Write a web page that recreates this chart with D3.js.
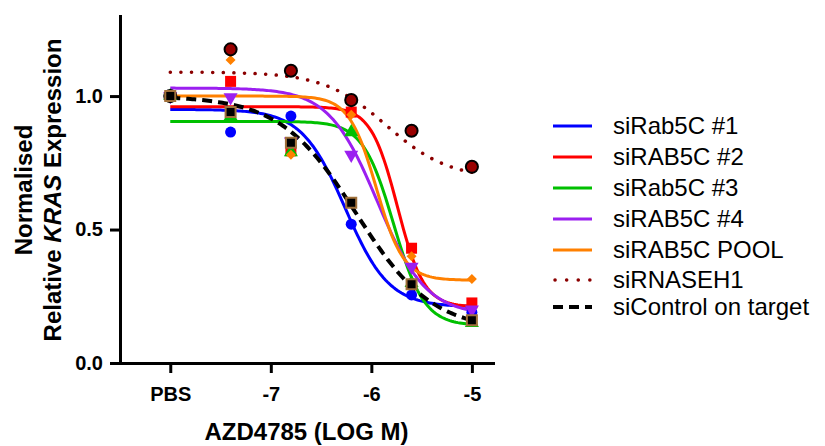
<!DOCTYPE html>
<html>
<head>
<meta charset="utf-8">
<script src="https://cdn.jsdelivr.net/npm/d3@7"></script>
<style>
body { margin: 0; background: #fff; }
text { font-family: "Liberation Sans", Arial, sans-serif; }
</style>
</head>
<body>
<svg id="chart" width="825" height="446"></svg>
<script>
// data
var logDose = [-8, -7.4, -6.8, -6.2, -5.6, -5];   // -8 = PBS
var xTickValues = [-8, -7, -6, -5];
var xTickLabels = ["PBS", "-7", "-6", "-5"];
var yTickValues = [0, 0.5, 1.0];

var seriesNames = ["siRab5C #1", "siRAB5C #2", "siRab5C #3", "siRAB5C #4",
                   "siRAB5C POOL", "siRNASEH1", "siControl on target"];

var rab1    = [1.0, 0.865, 0.925, 0.52, 0.255, 0.19];
var rab2    = [1.0, 1.055, 0.795, 0.94, 0.43, 0.225];
var rab3    = [1.0, 0.925, 0.79, 0.865, 0.30, 0.15];
var rab4    = [1.0, 0.995, 0.83, 0.78, 0.36, 0.20];
var pool    = [1.0, 1.135, 0.78, 0.93, 0.40, 0.315];
var rnaseh1 = [1.0, 1.175, 1.095, 0.985, 0.87, 0.735];
var control = [1.0, 0.94, 0.825, 0.60, 0.295, 0.16];

// fitted dose-response curves (top, bottom, logIC50, hill)
var fitTop     = [0.95, 0.96, 0.905, 1.03, 1.0, 1.09, 1.0];
var fitBottom  = [0.21, 0.21, 0.14, 0.18, 0.31, 0.69, 0.12];
var fitLogIC50 = [-6.26, -5.74, -5.78, -5.94, -5.95, -5.85, -6.15];
var fitHill    = [2.0, 3.3, 2.85, 1.8, 3.2, 1.4, 1.15];

var seriesValues = [rab1, rab2, rab3, rab4, pool, rnaseh1, control];

// styles
var colors = ["#0000ff", "#ff0000", "#00c000", "#9b1ff0", "#ff8000", "#8b0000", "#000000"];
var dashes = [null, null, null, null, null, "0.1,10.5", "10,6"];
var legendRowY = [126, 157, 188, 219, 250, 280, 307];

var svg = d3.select("#chart");

var x = d3.scaleLinear().domain([-8.5, -4.79]).range([120, 493]);
var y = d3.scaleLinear().domain([0, 1.3]).range([363, 16]);

// axes
var xAxis = d3.axisBottom(x)
    .tickValues(xTickValues)
    .tickFormat(function (d, i) { return xTickLabels[i]; })
    .tickSize(10).tickSizeOuter(0).tickPadding(14);

var yAxis = d3.axisLeft(y)
    .tickValues(yTickValues)
    .tickFormat(d3.format(".1f"))
    .tickSize(10).tickSizeOuter(0).tickPadding(7);

var gx = svg.append("g").attr("transform", "translate(0," + y(0) + ")").call(xAxis);
var gy = svg.append("g").attr("transform", "translate(" + x(-8.5) + ",0)").call(yAxis);

[gx, gy].forEach(function (g) {
    g.selectAll("path, line").attr("stroke", "#000").attr("stroke-width", 3);
    g.select(".domain").attr("stroke-linecap", "square");
    g.selectAll("text").attr("font-size", 20).attr("font-weight", "bold")
        .attr("fill", "#000").style("font-family", "'Liberation Sans', Arial, sans-serif");
});

// axis titles
svg.append("text")
    .attr("x", (x(-8.5) + x(-4.79)) / 2)
    .attr("y", 440)
    .attr("text-anchor", "middle")
    .attr("font-size", 24).attr("font-weight", "bold")
    .text("AZD4785 (LOG M)");

var yt = svg.append("text")
    .attr("transform", "translate(0,190) rotate(-90)")
    .attr("text-anchor", "middle")
    .attr("font-size", 24).attr("font-weight", "bold");
yt.append("tspan").attr("x", 0).attr("y", 32).text("Normalised");
var l2 = yt.append("tspan").attr("x", 0).attr("y", 61);
l2.append("tspan").text("Relative ");
l2.append("tspan").attr("font-style", "italic").text("KRAS");
l2.append("tspan").text(" Expression");

// curves
var curveX = d3.range(-8, -4.999, 0.02);
function fitValue(i, lx) {
    return fitBottom[i] + (fitTop[i] - fitBottom[i]) /
        (1 + Math.pow(10, (lx - fitLogIC50[i]) * fitHill[i]));
}
var line = d3.line().x(function (d) { return x(d[0]); }).y(function (d) { return y(d[1]); });

seriesNames.forEach(function (name, i) {
    var pts = curveX.map(function (lx) { return [lx, fitValue(i, lx)]; });
    svg.append("path")
        .attr("d", line(pts))
        .attr("fill", "none")
        .attr("stroke", colors[i])
        .attr("stroke-width", i === 6 ? 4 : i === 5 ? 3.5 : 3)
        .attr("stroke-dasharray", dashes[i])
        .attr("stroke-linecap", i === 5 ? "round" : "butt");
});

// markers
var markerType = [d3.symbolCircle, d3.symbolSquare, d3.symbolTriangle, d3.symbolTriangle,
                  d3.symbolSquare, d3.symbolCircle, d3.symbolSquare];
var markerSize = [95, 121, 85, 85, 50, 115, 100];
var markerRot = [0, 0, 0, 180, 45, 0, 0];
var markerFill = ["#0000ff", "#ff0000", "#00c000", "#9b1ff0", "#ff8000", "#990000", "#000000"];
var markerStroke = [null, null, null, null, null, "#000", "#a0703a"];

seriesValues.forEach(function (vals, i) {
    svg.append("g").selectAll("path")
        .data(vals)
        .enter().append("path")
        .attr("d", d3.symbol().type(markerType[i]).size(markerSize[i]))
        .attr("transform", function (d, j) {
            return "translate(" + x(logDose[j]) + "," + y(d) + ") rotate(" + markerRot[i] + ")";
        })
        .attr("fill", markerFill[i])
        .attr("stroke", markerStroke[i])
        .attr("stroke-width", markerStroke[i] ? 2 : 0);
});

// legend
var legend = svg.append("g");
seriesNames.forEach(function (name, i) {
    var ly = legendRowY[i];
    legend.append("line")
        .attr("x1", i === 5 ? 555 : 553).attr("x2", 592).attr("y1", ly).attr("y2", ly)
        .attr("stroke", colors[i])
        .attr("stroke-width", i === 6 ? 4 : i === 5 ? 3.5 : 3)
        .attr("stroke-dasharray", i === 5 ? "0.1,11.5" : i === 6 ? "10,6" : null)
        .attr("stroke-linecap", i === 5 ? "round" : "butt");
    legend.append("text")
        .attr("x", 613).attr("y", ly + 8)
        .attr("font-size", 24)
        .attr("fill", "#000")
        .text(name);
});
</script>
</body>
</html>
